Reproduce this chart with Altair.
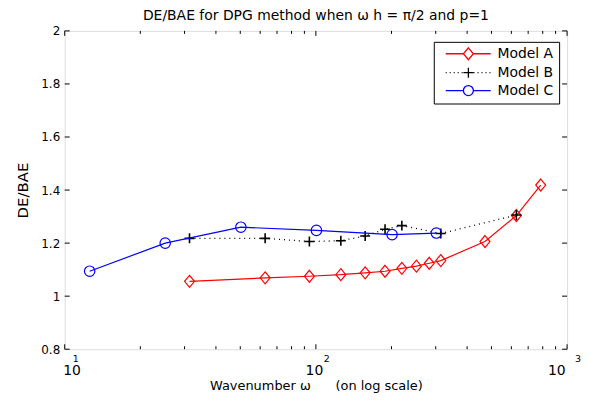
import altair as alt
import pandas as pd

# ---------------- data ----------------
models = ["Model A", "Model B", "Model C"]
colors = ["#ff0000", "#000000", "#0000ff"]

a_x = [31.4, 62.8, 94.2, 125.7, 157.1, 188.5, 219.9, 251.3, 282.7, 314.2, 471.2, 628.3, 785.4]
a_y = [1.056, 1.069, 1.075, 1.081, 1.088, 1.094, 1.105, 1.113, 1.124, 1.134, 1.206, 1.304, 1.419]

b_x = [31.4, 62.8, 94.2, 125.7, 157.1, 188.5, 219.9, 314.2, 628.3]
b_y = [1.218, 1.218, 1.206, 1.209, 1.227, 1.252, 1.266, 1.236, 1.306]

c_x = [12.57, 25.13, 50.27, 100.5, 201.1, 301.6]
c_y = [1.094, 1.200, 1.260, 1.248, 1.232, 1.238]

x_major = [10, 100, 1000]
x_exponents = ["1", "2", "3"]
x_minor = [20, 30, 40, 50, 60, 70, 80, 90, 200, 300, 400, 500, 600, 700, 800, 900]
y_ticks = [0.8, 1.0, 1.2, 1.4, 1.6, 1.8, 2.0]

FONT = "DejaVu Sans"
W, H = 505, 320

# ---------------- scales / axes ----------------
xs = alt.Scale(type="log", domain=[10, 1000], nice=False)
ys = alt.Scale(domain=[0.8, 2.0], nice=False, zero=False)

x_axis = alt.Axis(
    values=x_major,
    labelExpr="'10'",
    ticks=False, domain=False, grid=False,
    labelPadding=14, labelOffset=-2, labelFontSize=14, labelFont=FONT, labelColor="black",
    title="Wavenumber \u03c9\u00a0\u00a0\u00a0\u00a0\u00a0\u00a0(on log scale)",
    titleFontSize=13, titleFont=FONT, titleFontWeight="normal", titleColor="black",
    titlePadding=2,
)
y_axis = alt.Axis(
    values=y_ticks, format=".1~f",
    ticks=False, domain=False, grid=False,
    labelPadding=5, labelFontSize=12, labelFont=FONT, labelColor="black",
    title="DE/BAE", titleFontSize=15, titleFont=FONT, titleFontWeight="normal",
    titleColor="black", titlePadding=10,
)


def X(field="x"):
    return alt.X(f"{field}:Q", scale=xs, axis=x_axis)


def Y(field="y"):
    return alt.Y(f"{field}:Q", scale=ys, axis=y_axis)


# ---------------- series ----------------
diamond = "M0,-1.2L1,0L0,1.2L-1,0Z"
plus = "M-1,0L1,0M0,-1L0,1"
circle = "circle"

series = [
    ("Model A", a_x, a_y, colors[0], None, diamond, 100, 1.2),
    ("Model B", b_x, b_y, colors[1], [1, 4], plus, 100, 1.6),
    ("Model C", c_x, c_y, colors[2], None, circle, 110, 1.2),
]

layers = []
for name, xv, yv, col, dash, shp, sz, psw in series:
    df = pd.DataFrame({"x": xv, "y": yv})
    lkw = dict(color=col, strokeWidth=1.2)
    if dash is not None:
        lkw["strokeDash"] = dash
        lkw["strokeWidth"] = 1.3
    layers.append(alt.Chart(df).mark_line(**lkw).encode(x=X(), y=Y()))
    layers.append(
        alt.Chart(df)
        .mark_point(shape=shp, size=sz, color=col, filled=False, strokeWidth=psw, opacity=1)
        .encode(x=X(), y=Y())
    )

# ---------------- inward ticks ----------------
def tick_layer(vals, field, **enc):
    df = pd.DataFrame({field: vals})
    return alt.Chart(df).mark_rule(color="black", strokeWidth=1).encode(**enc)

layers.append(tick_layer(x_major, "x", x=X(), y=alt.value(H), y2=alt.value(H - 5)))
layers.append(tick_layer(x_minor, "x", x=X(), y=alt.value(H), y2=alt.value(H - 3)))
layers.append(tick_layer(x_major, "x", x=X(), y=alt.value(0), y2=alt.value(5)))
layers.append(tick_layer(x_minor, "x", x=X(), y=alt.value(0), y2=alt.value(3)))
layers.append(tick_layer(y_ticks, "y", y=Y(), x=alt.value(0), x2=alt.value(5)))
layers.append(tick_layer(y_ticks, "y", y=Y(), x=alt.value(W), x2=alt.value(W - 5)))

# exponent part of the 10^n tick labels
exp_df = pd.DataFrame({"x": x_major, "e": x_exponents})
layers.append(
    alt.Chart(exp_df)
    .mark_text(font=FONT, fontSize=9.5, align="left", baseline="alphabetic", dx=8, color="black")
    .encode(x=X(), y=alt.value(H + 13), text="e:N")
)

# ---------------- legend (symbol = line + marker) ----------------
dots = "".join(f"M{v:.2f},0L{v + 0.2:.2f},0" for v in [0, 0.8, 1.6, 2.4, 3.2, 5.6, 6.4, 7.2, 8.0, 8.8])
leg_paths = [
    "M0,0L3.56,0M5.56,0L9.04,0M4.56,-1.2L5.56,0L4.56,1.2L3.56,0Z",
    dots + "M3.56,0L5.56,0M4.56,-1L4.56,1",
    "M0,0L3.56,0M5.56,0L9.04,0M5.56,0A1,1 0 1,1 3.56,0A1,1 0 1,1 5.56,0",
]
leg_df = pd.DataFrame({"model": models, "x": [100] * 3, "y": [1.2] * 3})
legend = alt.Legend(
    title=None, orient="none", legendX=371, legendY=11, padding=5,
    symbolSize=100, symbolStrokeWidth=1.3, symbolOpacity=1,
    labelOffset=45, labelFontSize=14, labelFont=FONT, labelColor="black",
    rowPadding=2, strokeColor="black", fillColor="white",
    labelExpr="datum.label + '\u00a0\u00a0\u00a0\u00a0'",
)
layers.append(
    alt.Chart(leg_df)
    .mark_point(opacity=0, filled=False)
    .encode(
        x=X(), y=Y(),
        color=alt.Color("model:N", scale=alt.Scale(domain=models, range=colors), legend=legend),
        shape=alt.Shape("model:N", scale=alt.Scale(domain=models, range=leg_paths), legend=legend),
    )
)

chart = (
    alt.layer(*layers)
    .properties(
        width=W, height=H,
        autosize=alt.AutoSizeParams(type="none"),
        padding={"left": 57, "top": 22, "right": 14, "bottom": 44},
        title=alt.TitleParams(
            "DE/BAE for DPG method when \u03c9 h = \u03c0/2 and p=1",
            fontSize=14, font=FONT, fontWeight="normal", color="black",
            anchor="middle", offset=2,
        ),
    )
    .configure_view(stroke="black", strokeWidth=1.5)
    .configure(background="white")
)

chart.save("out.html", embed_options={"renderer": "svg", "actions": False})
